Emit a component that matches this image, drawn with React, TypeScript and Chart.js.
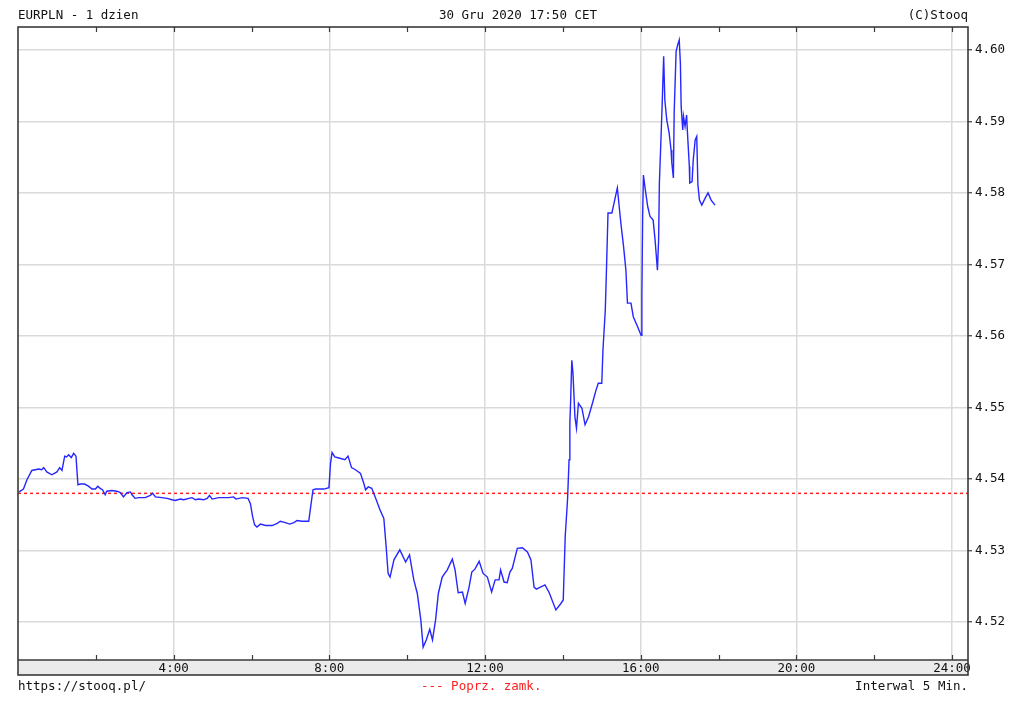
import React, { useEffect, useRef } from "react";
import { Chart, registerables } from "chart.js";

Chart.register(...registerables);

// time of day in hours
const times = [
  0.03, 0.14, 0.23, 0.355, 0.53, 0.61, 0.66, 0.74, 0.87, 1.0,
  1.07, 1.13, 1.2, 1.25, 1.3, 1.37, 1.43, 1.49, 1.54, 1.6,
  1.71, 1.81, 1.9, 1.99, 2.05, 2.11, 2.17, 2.24, 2.28, 2.41,
  2.54, 2.63, 2.71, 2.8, 2.89, 2.93, 3.01, 3.1, 3.27, 3.4,
  3.46, 3.53, 3.7, 3.83, 3.96, 4.04, 4.17, 4.26, 4.39, 4.47,
  4.56, 4.64, 4.77, 4.86, 4.92, 4.99, 5.16, 5.41, 5.54, 5.6,
  5.76, 5.91, 5.97, 6.03, 6.08, 6.14, 6.23, 6.36, 6.53, 6.66,
  6.74, 6.87, 6.98, 7.09, 7.17, 7.3, 7.47, 7.52, 7.58, 7.65,
  7.73, 7.86, 7.99, 8.03, 8.07, 8.14, 8.27, 8.4, 8.48, 8.57,
  8.67, 8.8, 8.89, 8.93, 9.0, 9.09, 9.19, 9.3, 9.4, 9.46,
  9.51, 9.56, 9.66, 9.81, 9.96, 10.06, 10.17, 10.26, 10.35, 10.41,
  10.49, 10.58, 10.65, 10.73, 10.8, 10.9, 11.03, 11.16, 11.23, 11.31,
  11.42, 11.49, 11.59, 11.66, 11.74, 11.85, 11.95, 12.06, 12.17, 12.26,
  12.36, 12.4, 12.49, 12.57, 12.64, 12.7, 12.83, 12.96, 13.09, 13.18,
  13.26, 13.32, 13.54, 13.65, 13.82, 13.95, 14.01, 14.06, 14.12, 14.16,
  14.18, 14.2, 14.23, 14.26, 14.31, 14.35, 14.4, 14.49, 14.57, 14.66,
  14.76, 14.85, 14.91, 15.0, 15.03, 15.09, 15.12, 15.16, 15.26, 15.4,
  15.49, 15.56, 15.62, 15.66, 15.75, 15.81, 15.92, 16.01, 16.03, 16.05,
  16.07, 16.12, 16.18, 16.24, 16.32, 16.37, 16.43, 16.46, 16.48, 16.52,
  16.55, 16.59, 16.62, 16.67, 16.73, 16.78, 16.8, 16.84, 16.86, 16.91,
  16.95, 16.99, 17.02, 17.04, 17.08, 17.1, 17.14, 17.18, 17.2, 17.25,
  17.26, 17.32, 17.35, 17.4, 17.44, 17.47, 17.51, 17.57, 17.66, 17.73,
  17.81, 17.91,
];

const rates = [
  4.5382, 4.5386, 4.5399, 4.5412, 4.5414, 4.5413, 4.5416, 4.541, 4.5406, 4.541,
  4.5416, 4.5412, 4.5432, 4.5431, 4.5434, 4.543, 4.5436, 4.5432, 4.5392, 4.5393,
  4.5393, 4.539, 4.5386, 4.5386, 4.539, 4.5387, 4.5385, 4.5378, 4.5383, 4.5384,
  4.5383, 4.5381, 4.5375, 4.5381, 4.5382, 4.5378, 4.5373, 4.5374, 4.5374, 4.5377,
  4.538, 4.5375, 4.5374, 4.5373, 4.5371, 4.537, 4.5372, 4.5371, 4.5373, 4.5374,
  4.5371, 4.5372, 4.5371, 4.5373, 4.5377, 4.5372, 4.5374, 4.5374, 4.5375, 4.5372,
  4.5374, 4.5373, 4.5366, 4.5347, 4.5336, 4.5333, 4.5337, 4.5335, 4.5335, 4.5338,
  4.5341, 4.5339, 4.5337, 4.5339, 4.5342, 4.5341, 4.5341, 4.5361, 4.5385, 4.5386,
  4.5386, 4.5386, 4.5388, 4.5422, 4.5437, 4.5431, 4.5429, 4.5427, 4.5432, 4.5416,
  4.5413, 4.5408, 4.5393, 4.5385, 4.5389, 4.5387, 4.5373, 4.5357, 4.5345, 4.5305,
  4.5268, 4.5263, 4.5287, 4.5301, 4.5284, 4.5294, 4.5259, 4.524, 4.5203, 4.5165,
  4.5175, 4.519, 4.5175, 4.5203, 4.524, 4.5263, 4.5273, 4.5288, 4.5273, 4.5241,
  4.5242, 4.5226, 4.5249, 4.527, 4.5274, 4.5285, 4.5268, 4.5263, 4.5242, 4.5259,
  4.5259, 4.5273, 4.5256, 4.5255, 4.527, 4.5275, 4.5303, 4.5304, 4.5298, 4.5287,
  4.5249, 4.5246, 4.5252, 4.5241, 4.5217, 4.5226, 4.5231, 4.5319, 4.5371, 4.5427,
  4.5478, 4.551, 4.5566, 4.5548, 4.5487, 4.5471, 4.5506, 4.5499, 4.5476, 4.5487,
  4.5506, 4.5524, 4.5534, 4.5534, 4.558, 4.5636, 4.5692, 4.5772, 4.5772, 4.5807,
  4.5758, 4.5725, 4.5692, 4.5646, 4.5646, 4.5627, 4.5613, 4.5601, 4.5657, 4.5767,
  4.5825, 4.5804, 4.5781, 4.5767, 4.5762, 4.5734, 4.5692, 4.5734, 4.5814, 4.5874,
  4.5921, 4.5991, 4.593, 4.5902, 4.5884, 4.586, 4.5842, 4.5821, 4.5912, 4.5998,
  4.6007, 4.6014, 4.5981, 4.5921, 4.5888, 4.5907, 4.5893, 4.5909, 4.5886, 4.5837,
  4.5814, 4.5816, 4.5846, 4.5874, 4.5879, 4.5811, 4.579, 4.5783, 4.5793, 4.58,
  4.579, 4.5783,
];

const prevClose = 4.538;
const yTicks = [4.52, 4.53, 4.54, 4.55, 4.56, 4.57, 4.58, 4.59, 4.6];
const xTicks = [0, 2, 4, 6, 8, 10, 12, 14, 16, 18, 20, 22, 24];
const xLabelEvery = 4;
const xMin = 0;
const xMax = 24.41;
const yMin = 4.5147;
const yMax = 4.6032;

const titleLeft = "EURPLN - 1 dzien";
const titleCenter = "30 Gru 2020 17:50 CET";
const titleRight = "(C)Stooq";
const footerLeft = "https://stooq.pl/";
const footerCenter = "--- Poprz. zamk.";
const footerRight = "Interwal 5 Min.";

const FONT_FAMILY = "'DejaVu Sans Mono', 'Liberation Mono', monospace";
const FONT_SIZE = 12.5;
const BAND = 15;

const stooqFrame = {
  id: "stooqFrame",
  beforeDraw(chart: any) {
    const { ctx, chartArea: a } = chart;
    ctx.save();
    ctx.fillStyle = "#ffffff";
    ctx.fillRect(0, 0, chart.width, chart.height);
    ctx.fillStyle = "#ebebeb";
    ctx.fillRect(a.left, a.bottom, a.right - a.left, BAND);
    ctx.restore();
  },
  afterDraw(chart: any) {
    const { ctx, chartArea: a } = chart;
    const xs = chart.scales.x;
    ctx.save();
    ctx.strokeStyle = "#3a3a3a";
    ctx.lineWidth = 1.6;
    ctx.strokeRect(a.left, a.top, a.right - a.left, a.bottom + BAND - a.top);
    ctx.beginPath();
    ctx.moveTo(a.left, a.bottom);
    ctx.lineTo(a.right, a.bottom);
    ctx.stroke();
    ctx.lineWidth = 1.2;
    ctx.beginPath();
    for (const v of xTicks) {
      const px = Math.round(xs.getPixelForValue(v)) + 0.5;
      if (px <= a.left + 1 || px >= a.right - 1) continue;
      ctx.moveTo(px, a.bottom);
      ctx.lineTo(px, a.bottom - 5);
      ctx.moveTo(px, a.top);
      ctx.lineTo(px, a.top + 5);
    }
    ctx.stroke();

    ctx.font = `${FONT_SIZE}px ${FONT_FAMILY}`;
    ctx.textBaseline = "middle";
    ctx.fillStyle = "#111";
    ctx.textAlign = "left";
    ctx.fillText(titleLeft, a.left, 16);
    ctx.textAlign = "center";
    ctx.fillText(titleCenter, 518, 16);
    ctx.textAlign = "right";
    ctx.fillText(titleRight, a.right, 16);

    ctx.textAlign = "left";
    ctx.fillText(footerLeft, a.left, 687);
    ctx.textAlign = "right";
    ctx.fillText(footerRight, a.right, 687);
    ctx.textAlign = "left";
    ctx.fillStyle = "#ff2020";
    ctx.fillText(footerCenter, 421, 687);
    ctx.restore();
  },
};

export default function App() {
  const ref = useRef<HTMLCanvasElement | null>(null);

  useEffect(() => {
    if (!ref.current) return;
    const chart = new Chart(ref.current, {
      type: "line",
      data: {
        datasets: [
          {
            label: "EURPLN",
            data: times.map((t, i) => ({ x: t, y: rates[i] })),
            borderColor: "#2626ff",
            borderWidth: 1.4,
            pointRadius: 0,
            tension: 0,
            fill: false,
            order: 1,
          },
          {
            label: "Poprz. zamk.",
            data: [
              { x: xMin, y: prevClose },
              { x: xMax, y: prevClose },
            ],
            borderColor: "#ff2020",
            borderWidth: 1.5,
            borderDash: [3, 3],
            pointRadius: 0,
            fill: false,
            order: 2,
          },
        ],
      },
      options: {
        responsive: false,
        animation: false,
        events: [],
        layout: { padding: { left: 18, top: 27, right: 0, bottom: 0 } },
        plugins: {
          legend: { display: false },
          title: { display: false },
          tooltip: { enabled: false },
        },
        scales: {
          x: {
            type: "linear",
            min: xMin,
            max: xMax,
            afterBuildTicks: (s: any) => {
              s.ticks = xTicks.map((v) => ({ value: v }));
            },
            afterFit: (s: any) => {
              s.height = 701 - 660;
            },
            border: { display: false },
            grid: {
              drawTicks: false,
              lineWidth: 1.5,
              color: (c: any) =>
                c.tick && c.tick.value > 0 && c.tick.value % xLabelEvery === 0
                  ? "#dadada"
                  : "rgba(0,0,0,0)",
            },
            ticks: {
              autoSkip: false,
              maxRotation: 0,
              padding: 1,
              color: "#111",
              font: { family: FONT_FAMILY, size: FONT_SIZE },
              callback: (v: any) =>
                Number(v) > 0 && Number(v) % xLabelEvery === 0 ? `${v}:00` : "",
            },
          },
          y: {
            type: "linear",
            position: "right",
            min: yMin,
            max: yMax,
            afterBuildTicks: (s: any) => {
              s.ticks = yTicks.map((v) => ({ value: v }));
            },
            afterFit: (s: any) => {
              s.width = 1024 - 968;
            },
            border: { display: false },
            grid: {
              color: "#dadada",
              lineWidth: 1.5,
              drawTicks: true,
              tickLength: 4,
              tickColor: "#3a3a3a",
              tickWidth: 1.2,
            },
            ticks: {
              padding: 3,
              color: "#111",
              font: { family: FONT_FAMILY, size: FONT_SIZE },
              callback: (v: any) => Number(v).toFixed(2),
            },
          },
        },
      },
      plugins: [stooqFrame],
    });
    return () => chart.destroy();
  }, []);

  return (
    <div style={{ position: "absolute", left: 0, top: 0, width: 1024, height: 701, background: "#fff" }}>
      <canvas ref={ref} width={1024} height={701} style={{ display: "block", width: 1024, height: 701 }} />
    </div>
  );
}
